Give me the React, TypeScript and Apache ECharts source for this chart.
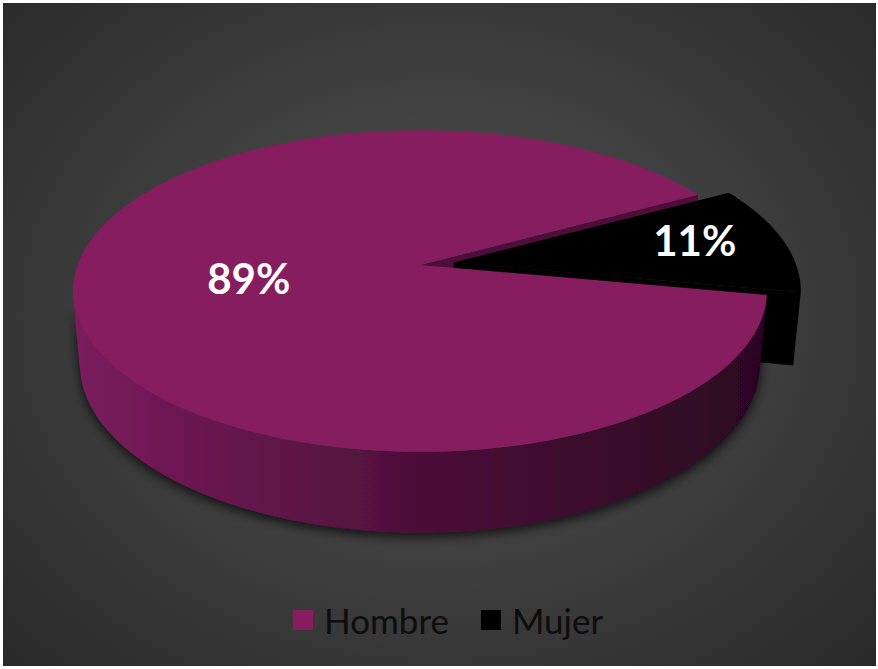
import React, { useEffect, useRef } from "react";
import * as echarts from "echarts";

// ---- data ----
const categories = ["Hombre", "Mujer"];
const values = [89, 11];

// ---- styling / layout ----
const topColors = ["#861d5e", "#000000"];
const cutColors = ["#4e0e3b", "#000000"];
const sideStops = [
  ["#7b1c5e", "#4c1039", "#2a0620"],
  ["#050505", "#000000", "#000000"],
];
const explode = [0, 0.1];
const labelRadius = [0.5, 0.73];
const labelShiftY = [0, -5];
// draw order (z2) per slice: cut faces, outer side, top face
const layerZ = [
  { cut: 1, side: 5, top: 6 },
  { cut: 2, side: 3, top: 4 },
];
const GEO = { cx: 417, cy: 262, f: 1880, D: 5.49, alpha: 27.2, h: 0.24, start: 100.7 };

const RAD = Math.PI / 180;
const sa = Math.sin(GEO.alpha * RAD);
const ca = Math.cos(GEO.alpha * RAD);

function proj(X: number, Y: number, Z: number): number[] {
  const zv = Z * ca + Y * sa;
  const yv = Y * ca - Z * sa;
  const d = GEO.D - zv;
  return [GEO.cx + (GEO.f * X) / d, GEO.cy - (GEO.f * yv) / d];
}

function buildSlice(i: number) {
  const total = values.reduce((a, b) => a + b, 0);
  let cum = 0;
  for (let k = 0; k < i; k++) cum += values[k];
  const s0 = GEO.start + (360 * cum) / total;
  const s1 = s0 + (360 * values[i]) / total;
  const mid = (s0 + s1) / 2;
  const ox = explode[i] * Math.sin(mid * RAD);
  const oz = -explode[i] * Math.cos(mid * RAD);
  const rim = (phi: number, Y: number, r = 1) =>
    proj(ox + r * Math.sin(phi * RAD), Y, oz - r * Math.cos(phi * RAD));
  const apex = (Y: number) => proj(ox, Y, oz);
  const h = GEO.h;
  const z = layerZ[i];
  const children: any[] = [];

  const step = 0.5;
  const angles: number[] = [];
  for (let a = s0; a < s1; a += step) angles.push(a);
  angles.push(s1);

  const camZ = GEO.D * ca;
  const faceVisible = (nAng: number) => {
    const nx = Math.sin(nAng * RAD);
    const nz = -Math.cos(nAng * RAD);
    return -ox * nx + (camZ - oz) * nz > 0;
  };
  [
    { a: s0, n: s0 - 90 },
    { a: s1, n: s1 + 90 },
  ].forEach((b) => {
    if (faceVisible(b.n)) {
      children.push({
        type: "polygon",
        z2: z.cut,
        shape: { points: [apex(0), rim(b.a, 0), rim(b.a, -h), apex(-h)] },
        style: { fill: cutColors[i] },
      });
    }
  });

  const sideVis = (phi: number) =>
    -1 - ox * Math.sin(phi * RAD) + oz * Math.cos(phi * RAD) - camZ * Math.cos(phi * RAD) > 0;
  const runs: number[][] = [];
  let cur: number[] = [];
  angles.forEach((a) => {
    if (sideVis(a)) cur.push(a);
    else if (cur.length) {
      runs.push(cur);
      cur = [];
    }
  });
  if (cur.length) runs.push(cur);
  runs.forEach((run) => {
    if (run.length < 2) return;
    const pts = run.map((a) => rim(a, 0)).concat(run.slice().reverse().map((a) => rim(a, -h)));
    const st = sideStops[i];
    children.push({
      type: "polygon",
      z2: z.side,
      shape: { points: pts },
      style: {
        fill: new echarts.graphic.LinearGradient(0, 0, 1, 0, [
          { offset: 0, color: st[0] },
          { offset: 0.5, color: st[1] },
          { offset: 1, color: st[2] },
        ]),
        shadowBlur: 12,
        shadowColor: "rgba(0,0,0,0.75)",
        shadowOffsetY: 4,
      },
    });
  });

  const topPts = [apex(0)].concat(angles.map((a) => rim(a, 0)));
  children.push({
    type: "polygon",
    z2: z.top,
    shape: { points: topPts },
    style: { fill: topColors[i] },
  });

  const lp = rim(mid, 0, labelRadius[i]);
  children.push({
    type: "text",
    z2: 10,
    x: lp[0],
    y: lp[1] + labelShiftY[i],
    style: {
      text: Math.round((values[i] / total) * 100) + "%",
      fill: "#ffffff",
      font: "bold 42px Lato",
      align: "center",
      verticalAlign: "middle",
    },
  });

  return { type: "group", children };
}

export default function App() {
  const ref = useRef<HTMLDivElement>(null);
  useEffect(() => {
    if (!ref.current) return;
    const chart = echarts.init(ref.current, undefined, { renderer: "svg" });
    chart.setOption({
      animation: false,
      legend: {
        data: categories,
        left: 290,
        top: 598,
        padding: 0,
        icon: "rect",
        itemWidth: 20,
        itemHeight: 20,
        itemGap: 32,
        textStyle: {
          fontFamily: "Lato",
          fontSize: 35,
          color: "#0d0d0d",
          lineHeight: 38,
          padding: [0, 0, 0, 6],
        },
      },
      series: categories.map((name, i) => ({
        type: "custom",
        name,
        coordinateSystem: "none",
        silent: true,
        itemStyle: { color: topColors[i] },
        data: [[values[i]]],
        renderItem: () => buildSlice(i),
      })),
    });
    return () => chart.dispose();
  }, []);
  return (
    <div
      ref={ref}
      style={{
        position: "absolute",
        left: 3,
        top: 3,
        width: 873,
        height: 663,
        background:
          "radial-gradient(ellipse 75% 80% at 50% 48%, #545454 0%, #444444 35%, #262626 100%)",
      }}
    />
  );
}
